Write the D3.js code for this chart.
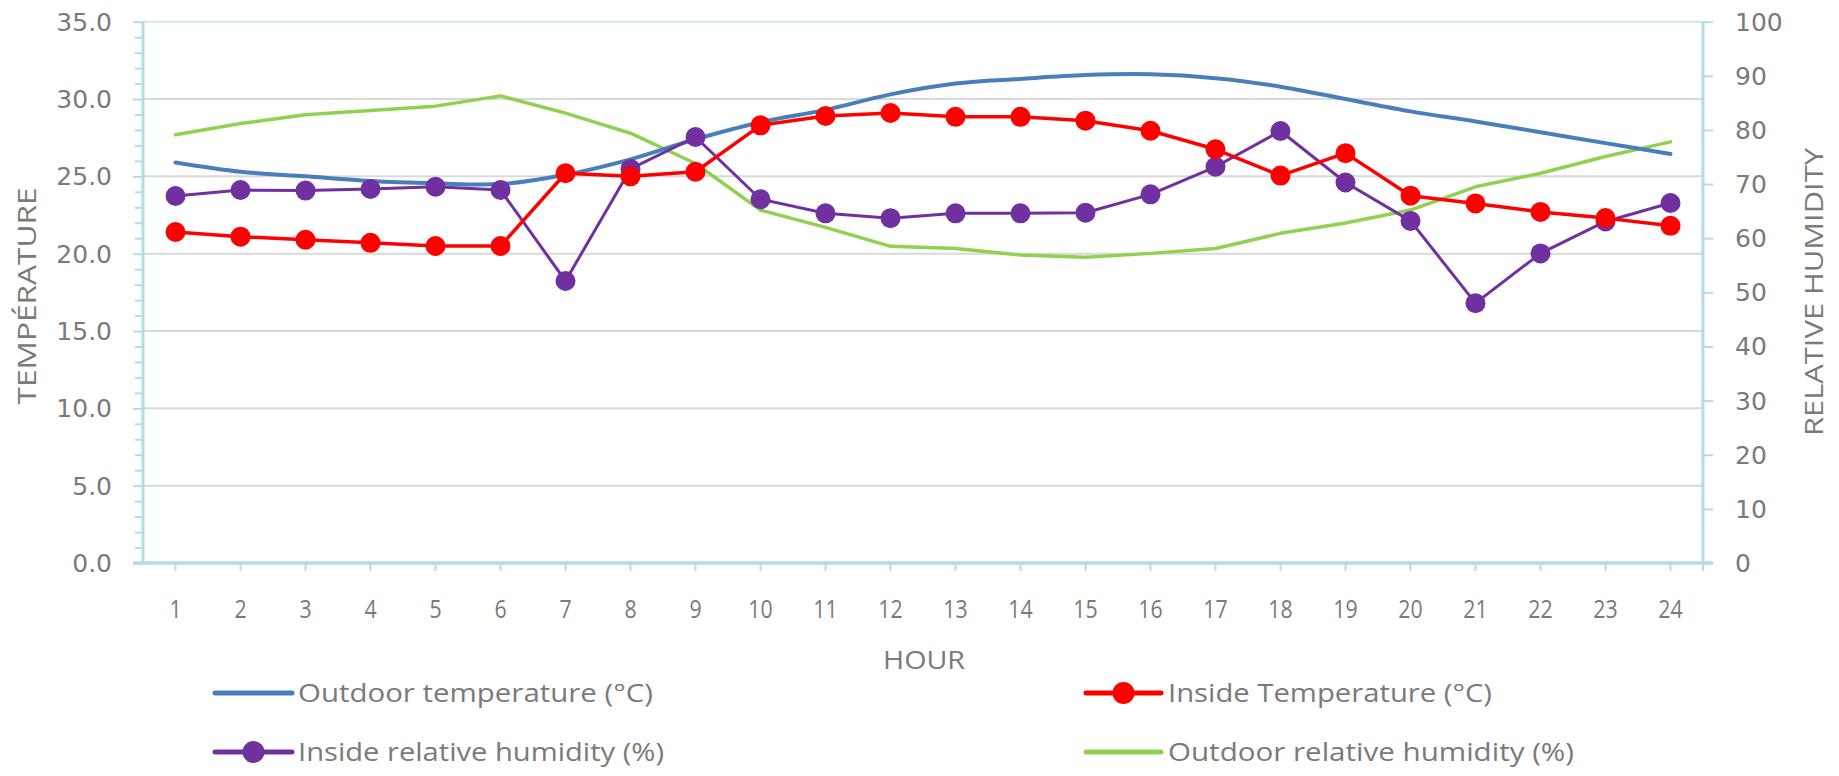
<!DOCTYPE html>
<html>
<head>
<meta charset="utf-8">
<script src="https://cdn.jsdelivr.net/npm/d3@7"></script>
<style>
html,body{margin:0;padding:0;background:#fff;}
svg{display:block;}
</style>
</head>
<body>
<div id="chart"></div>
<script>
// ---- data ----
const hours = [1,2,3,4,5,6,7,8,9,10,11,12,13,14,15,16,17,18,19,20,21,22,23,24];
const outdoorTemp = [25.9,25.3,25.0,24.7,24.55,24.5,25.1,26.1,27.4,28.5,29.3,30.3,31.0,31.3,31.55,31.6,31.35,30.8,30.0,29.2,28.55,27.85,27.15,26.45];
const insideTemp = [21.4,21.1,20.9,20.7,20.5,20.5,25.2,25.0,25.3,28.3,28.9,29.1,28.85,28.85,28.6,27.95,26.75,25.05,26.5,23.75,23.25,22.7,22.3,21.8];
const insideRH = [67.8,68.9,68.8,69.1,69.5,68.9,52.1,72.8,78.7,67.2,64.6,63.7,64.6,64.6,64.7,68.1,73.2,79.8,70.3,63.2,48.0,57.2,63.1,66.5];
const outdoorRH = [79.1,81.2,82.8,83.6,84.4,86.3,83.1,79.4,73.8,65.2,62.0,58.5,58.1,56.9,56.5,57.2,58.1,60.9,62.8,65.2,69.5,72.0,75.1,77.8];
const leftTicks = [0,5,10,15,20,25,30,35];
const rightTicks = [0,10,20,30,40,50,60,70,80,90,100];
const seriesNames = ["Outdoor temperature (°C)","Inside Temperature (°C)","Inside relative humidity (%)","Outdoor relative humidity (%)"];
const leftTitle = "TEMPÉRATURE";
const rightTitle = "RELATIVE HUMIDITY";
const xTitle = "HOUR";

// ---- styles ----
const W = 1839, H = 776;
const C = {blue:"#4a7ebb", red:"#ff0000", purple:"#7030a0", green:"#92d050",
           axis:"#b5dce6", grid:"#d9d9d9", text:"#7a7a7a"};
const plot = {left:143, right:1703, top:21.7, bottom:563};

const svg = d3.select("#chart").append("svg").attr("width",W).attr("height",H);

const x = d3.scaleBand().domain(hours).range([plot.left, plot.right]);
const cx = h => x(h) + x.bandwidth()/2;
const yL = d3.scaleLinear().domain([0,35]).range([plot.bottom, plot.top]);
const yR = d3.scaleLinear().domain([0,100]).range([plot.bottom, plot.top]);

// gridlines
svg.append("g").selectAll("line").data(leftTicks.filter(v=>v>0)).join("line")
  .attr("x1",plot.left).attr("x2",plot.right)
  .attr("y1",d=>yL(d)).attr("y2",d=>yL(d))
  .attr("stroke",d=>d===35?"#cfe7ee":C.grid).attr("stroke-width",2);

// left axis
const gL = svg.append("g").attr("transform",`translate(${plot.left},0)`)
  .call(d3.axisLeft(yL).tickValues(d3.range(0,36,1)).tickSize(8).tickFormat(""));
gL.selectAll(".tick line").attr("stroke",C.axis).attr("stroke-width",2)
  .attr("x2",d=>d%5===0?-10:-8);
gL.select(".domain").remove();
gL.append("line").attr("x1",0).attr("x2",0).attr("y1",plot.top).attr("y2",plot.bottom)
  .attr("stroke",C.axis).attr("stroke-width",3);
svg.append("g").selectAll("text").data(leftTicks).join("text")
  .attr("x",112).attr("y",d=>yL(d)).attr("dy","0.36em")
  .attr("text-anchor","end").attr("font-family","DejaVu Sans").attr("font-size",25)
  .attr("fill",C.text).text(d=>d3.format(".1f")(d));

// right axis
const gR = svg.append("g").attr("transform",`translate(${plot.right},0)`)
  .call(d3.axisRight(yR).tickValues(rightTicks).tickSize(10).tickFormat(""));
gR.selectAll(".tick line").attr("stroke",C.axis).attr("stroke-width",2);
gR.select(".domain").remove();
gR.append("line").attr("x1",0).attr("x2",0).attr("y1",plot.top).attr("y2",plot.bottom)
  .attr("stroke",C.axis).attr("stroke-width",3);
svg.append("g").selectAll("text").data(rightTicks).join("text")
  .attr("x",1735).attr("y",d=>yR(d)).attr("dy","0.36em")
  .attr("text-anchor","start").attr("font-family","DejaVu Sans").attr("font-size",25)
  .attr("fill",C.text).text(d=>d);

// x axis
const gX = svg.append("g").attr("transform",`translate(0,${plot.bottom})`)
  .call(d3.axisBottom(x).tickSize(8).tickFormat(""));
gX.selectAll(".tick line").attr("stroke",C.axis).attr("stroke-width",2);
gX.select(".domain").remove();
gX.append("line").attr("x1",plot.left-10).attr("x2",plot.right+10).attr("y1",0).attr("y2",0)
  .attr("stroke",C.axis).attr("stroke-width",3.5);
gX.append("line").attr("x1",plot.right).attr("x2",plot.right).attr("y1",0).attr("y2",8)
  .attr("stroke",C.axis).attr("stroke-width",2);
svg.append("g").selectAll("text").data(hours).join("text")
  .attr("x",d=>cx(d)).attr("y",609).attr("dy","0.36em")
  .attr("text-anchor","middle").attr("font-family","Open Sans").attr("font-size",26)
  .attr("fill",C.text).attr("transform",d=>`translate(${cx(d)},0) scale(0.82,1) translate(${-cx(d)},0)`)
  .text(d=>d);

// axis titles
svg.append("text").attr("transform","translate(27,296) rotate(-90)")
  .attr("text-anchor","middle").attr("dy","0.36em").attr("font-family","Open Sans").attr("font-size",25)
  .attr("fill",C.text).attr("textLength",217).attr("lengthAdjust","spacingAndGlyphs").text(leftTitle);
svg.append("text").attr("transform","translate(1814,292) rotate(-90)")
  .attr("text-anchor","middle").attr("dy","0.36em").attr("font-family","Open Sans").attr("font-size",25)
  .attr("fill",C.text).attr("textLength",288).attr("lengthAdjust","spacingAndGlyphs").text(rightTitle);
svg.append("text").attr("x",924).attr("y",660).attr("dy","0.36em")
  .attr("text-anchor","middle").attr("font-family","Open Sans").attr("font-size",25)
  .attr("fill",C.text).attr("textLength",82).attr("lengthAdjust","spacingAndGlyphs").text(xTitle);

// series
const series = [
  {name:seriesNames[0], vals:outdoorTemp, y:yL, color:C.blue, w:4, curve:d3.curveCatmullRom.alpha(0.5), marker:false},
  {name:seriesNames[1], vals:insideTemp, y:yL, color:C.red, w:3.5, curve:d3.curveLinear, marker:true},
  {name:seriesNames[2], vals:insideRH, y:yR, color:C.purple, w:3, curve:d3.curveLinear, marker:true},
  {name:seriesNames[3], vals:outdoorRH, y:yR, color:C.green, w:3.5, curve:d3.curveLinear, marker:false}
];
const drawOrder = [3,0,2,1];
drawOrder.forEach(i => {
  const s = series[i];
  const line = d3.line().x((d,j)=>cx(hours[j])).y(d=>s.y(d)).curve(s.curve);
  svg.append("path").datum(s.vals).attr("d",line).attr("fill","none")
    .attr("stroke",s.color).attr("stroke-width",s.w).attr("stroke-linejoin","round").attr("stroke-linecap","round");
  if (s.marker) {
    svg.append("g").selectAll("circle").data(s.vals).join("circle")
      .attr("cx",(d,j)=>cx(hours[j])).attr("cy",d=>s.y(d)).attr("r",10).attr("fill",s.color);
  }
});

// legend
const legendPos = [
  {sx:215, ex:292, tx:298, y:693},
  {sx:1086, ex:1161, tx:1168, y:693},
  {sx:215, ex:292, tx:298, y:752},
  {sx:1086, ex:1161, tx:1168, y:752}
];
const legendLen = [355, 324, 366, 406];
const leg = svg.append("g");
series.forEach((s,i) => {
  const p = legendPos[i];
  leg.append("line").attr("x1",p.sx).attr("x2",p.ex).attr("y1",p.y).attr("y2",p.y)
    .attr("stroke",s.color).attr("stroke-width",5).attr("stroke-linecap","round");
  if (s.marker) leg.append("circle").attr("cx",(p.sx+p.ex)/2).attr("cy",p.y).attr("r",11).attr("fill",s.color);
  leg.append("text").attr("x",p.tx).attr("y",p.y).attr("dy","0.36em")
    .attr("font-family","Open Sans").attr("font-size",26).attr("fill",C.text)
    .attr("textLength",legendLen[i]).attr("lengthAdjust","spacingAndGlyphs").text(s.name);
});
</script>
</body>
</html>
